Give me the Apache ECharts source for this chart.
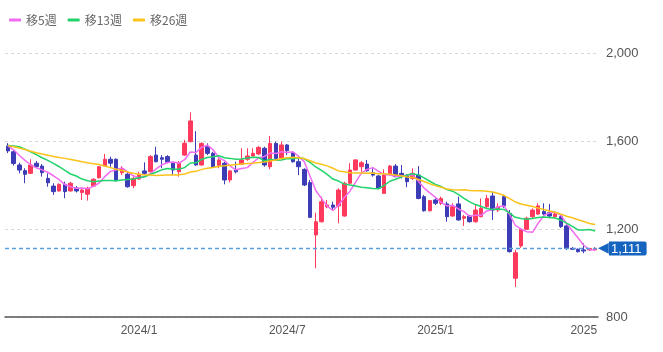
<!DOCTYPE html>
<html>
<head>
<meta charset="utf-8">
<script src="https://cdnjs.cloudflare.com/ajax/libs/echarts/6.0.0/echarts.min.js"></script>
<style>
html, body { margin: 0; padding: 0; background: #fff; }
#main { width: 663px; height: 352px; }
</style>
</head>
<body>
<div id="main"></div>
<script>
// 週足の日付
var dates = ['2023/7/28','2023/8/4','2023/8/11','2023/8/18','2023/8/25','2023/9/1','2023/9/8','2023/9/15','2023/9/22','2023/9/29',
  '2023/10/6','2023/10/13','2023/10/20','2023/10/27','2023/11/3','2023/11/10','2023/11/17','2023/11/24','2023/12/1','2023/12/8',
  '2023/12/15','2023/12/22','2023/12/29','2024/1/5','2024/1/12','2024/1/19','2024/1/26','2024/2/2','2024/2/9','2024/2/16',
  '2024/2/23','2024/3/1','2024/3/8','2024/3/15','2024/3/22','2024/3/29','2024/4/5','2024/4/12','2024/4/19','2024/4/26',
  '2024/5/3','2024/5/10','2024/5/17','2024/5/24','2024/5/31','2024/6/7','2024/6/14','2024/6/21','2024/6/28','2024/7/5',
  '2024/7/12','2024/7/19','2024/7/26','2024/8/2','2024/8/9','2024/8/16','2024/8/23','2024/8/30','2024/9/6','2024/9/13',
  '2024/9/20','2024/9/27','2024/10/4','2024/10/11','2024/10/18','2024/10/25','2024/11/1','2024/11/8','2024/11/15','2024/11/22',
  '2024/11/29','2024/12/6','2024/12/13','2024/12/20','2024/12/27','2025/1/3','2025/1/10','2025/1/17','2025/1/24','2025/1/31',
  '2025/2/7','2025/2/14','2025/2/21','2025/2/28','2025/3/7','2025/3/14','2025/3/21','2025/3/28','2025/4/4','2025/4/11',
  '2025/4/18','2025/4/25','2025/5/2','2025/5/9','2025/5/16','2025/5/23','2025/5/30','2025/6/6','2025/6/13','2025/6/20',
  '2025/6/27','2025/7/4','2025/7/11','2025/7/18'];

var openVals = [1577,1551,1491,1465,1453,1499,1486,1430,1395,1373,
  1403,1373,1386,1366,1358,1395,1433,1486,1517,1517,
  1456,1449,1397,1427,1464,1460,1536,1524,1529,1499,
  1460,1536,1597,1536,1491,1574,1544,1488,1499,1423,
  1468,1494,1517,1532,1541,1567,1483,1589,1521,1582,
  1547,1506,1471,1411,1173,1233,1301,1309,1305,1259,
  1408,1468,1483,1495,1456,1441,1362,1449,1486,1453,
  1441,1430,1445,1347,1283,1332,1317,1314,1259,1314,
  1249,1259,1233,1256,1301,1350,1286,1347,1271,976,
  1123,1199,1256,1268,1279,1274,1256,1256,1214,1112,
  1108,1105,1105,1105];

var closeVals = [1555,1498,1468,1449,1491,1483,1456,1410,1370,1403,
  1370,1408,1373,1377,1385,1426,1483,1517,1499,1420,
  1471,1392,1430,1449,1453,1529,1506,1517,1503,1468,
  1499,1590,1691,1491,1589,1544,1483,1514,1423,1464,
  1460,1514,1532,1544,1571,1491,1589,1521,1582,1556,
  1506,1483,1400,1253,1233,1324,1309,1299,1377,1408,
  1468,1514,1501,1465,1445,1385,1445,1486,1438,1441,
  1415,1453,1339,1283,1329,1317,1339,1256,1301,1241,
  1256,1233,1286,1294,1339,1286,1301,1305,1097,1092,
  1199,1249,1286,1305,1268,1259,1268,1211,1112,1108,
  1097,1100,1111,1111];

var highVals = [1590,1559,1501,1476,1517,1509,1495,1453,1408,1408,
  1415,1415,1395,1385,1392,1430,1486,1541,1529,1521,
  1486,1460,1438,1460,1503,1536,1574,1536,1536,1506,
  1509,1605,1730,1645,1594,1589,1551,1521,1506,1468,
  1506,1567,1567,1567,1577,1574,1623,1597,1597,1586,
  1551,1521,1476,1423,1274,1347,1332,1324,1385,1415,
  1499,1517,1509,1514,1476,1445,1471,1491,1495,1491,
  1450,1476,1486,1355,1332,1339,1347,1324,1317,1347,
  1264,1264,1309,1339,1355,1370,1317,1355,1286,1105,
  1205,1256,1294,1317,1317,1314,1277,1264,1221,1118,
  1112,1135,1114,1118];

var lowVals = [1545,1488,1453,1408,1450,1480,1438,1392,1355,1370,
  1340,1370,1366,1332,1329,1392,1430,1483,1483,1415,
  1445,1388,1385,1423,1445,1458,1503,1476,1499,1445,
  1438,1532,1594,1488,1488,1536,1479,1476,1403,1412,
  1453,1491,1510,1529,1536,1483,1471,1514,1517,1536,
  1502,1445,1395,1249,1021,1229,1294,1286,1226,1256,
  1405,1465,1460,1460,1438,1380,1359,1445,1435,1430,
  1390,1423,1335,1279,1279,1309,1309,1233,1256,1238,
  1214,1229,1229,1253,1295,1241,1277,1295,1093,936,
  1114,1196,1249,1264,1264,1249,1249,1205,1105,1105,
  1093,1090,1100,1102];

var ma5 = [1578,1560,1535,1512,1492,1478,1469,1458,1442,1424,
  1402,1392,1385,1386,1383,1394,1409,1438,1462,1469,
  1478,1460,1442,1432,1439,1451,1473,1491,1502,1505,
  1499,1515,1550,1548,1572,1581,1560,1524,1511,1486,
  1469,1475,1479,1503,1524,1530,1545,1543,1551,1548,
  1551,1530,1505,1440,1375,1339,1304,1284,1308,1343,
  1372,1413,1454,1471,1479,1462,1448,1445,1440,1439,
  1445,1447,1417,1386,1364,1344,1321,1305,1308,1291,
  1279,1257,1263,1262,1282,1288,1301,1305,1266,1216,
  1199,1188,1185,1226,1261,1273,1277,1262,1224,1192,
  1159,1126,1106,1105];

var ma13 = [1579,1577,1574,1563,1551,1538,1524,1512,1498,1483,
  1466,1450,1441,1427,1419,1415,1418,1420,1421,1419,
  1423,1425,1427,1433,1437,1449,1458,1469,1475,1473,
  1472,1479,1500,1501,1517,1525,1528,1533,1524,1521,
  1517,1518,1523,1526,1525,1509,1517,1512,1514,1520,
  1519,1524,1519,1503,1482,1466,1448,1427,1418,1404,
  1400,1395,1390,1387,1384,1383,1398,1417,1426,1436,
  1445,1451,1446,1432,1417,1403,1393,1379,1372,1357,
  1339,1323,1311,1302,1293,1289,1291,1289,1272,1253,
  1248,1244,1248,1252,1254,1252,1250,1240,1227,1212,
  1196,1196,1198,1191];

var ma26 = [1579,1574,1568,1561,1553,1547,1541,1535,1530,1525,
  1521,1516,1511,1506,1501,1497,1493,1486,1479,1472,
  1466,1459,1453,1449,1446,1445,1443,1444,1445,1446,
  1446,1450,1459,1462,1471,1476,1480,1485,1487,1490,
  1493,1496,1498,1499,1502,1505,1509,1514,1520,1524,
  1526,1524,1520,1510,1500,1494,1487,1476,1464,1460,
  1456,1455,1455,1453,1454,1451,1451,1449,1446,1442,
  1436,1434,1425,1416,1406,1397,1390,1382,1378,1377,
  1378,1375,1374,1374,1372,1368,1361,1353,1338,1323,
  1314,1308,1302,1295,1289,1282,1276,1267,1258,1251,
  1242,1234,1225,1220];

var tickDates = ['2024/1/5', '2024/7/5', '2025/1/3', '2025/7/4'];
var tickLabels = ['2024/1', '2024/7', '2025/1', '2025'];
var lastPrice = 1111;

var upColor = '#ff3a5c';
var downColor = '#3c3cb6';

var candles = [];
for (var i = 0; i < dates.length; i++) {
  candles.push([openVals[i], closeVals[i], lowVals[i], highVals[i]]);
}

var chart = echarts.init(document.getElementById('main'));
chart.setOption({
  animation: false,
  textStyle: { fontFamily: '"Liberation Sans", Arial, sans-serif' },
  legend: {
    left: 4,
    top: 9,
    itemWidth: 12,
    itemHeight: 3,
    itemGap: 11,
    icon: 'roundRect',
    textStyle: { color: '#666', fontSize: 12, fontFamily: '"Noto Sans CJK JP", sans-serif' },
    data: ['移5週', '移13週', '移26週']
  },
  grid: { left: 5, right: 65, top: 53, bottom: 35 },
  xAxis: {
    type: 'category',
    data: dates,
    boundaryGap: true,
    axisLine: { lineStyle: { color: '#555', width: 1.5 } },
    axisTick: { show: false },
    splitLine: { show: false },
    axisLabel: {
      color: '#555',
      fontSize: 12,
      margin: 8,
      interval: function (index, value) { return tickDates.indexOf(value) >= 0; },
      formatter: function (value) { return tickLabels[tickDates.indexOf(value)]; }
    }
  },
  yAxis: {
    type: 'value',
    position: 'right',
    min: 800,
    max: 2000,
    interval: 400,
    axisLine: { show: false },
    axisTick: { show: false },
    splitLine: { lineStyle: { color: '#d9d9d9', type: [3, 3] } },
    axisLabel: {
      color: '#555',
      fontSize: 13,
      margin: 8,
      formatter: function (v) { return v.toLocaleString('en-US'); }
    }
  },
  series: [
    {
      name: '週足',
      type: 'candlestick',
      data: candles,
      barWidth: 4,
      itemStyle: {
        color: upColor,
        color0: downColor,
        borderColor: upColor,
        borderColor0: downColor,
        borderWidth: 1
      },
      markLine: {
        silent: true,
        symbol: 'none',
        lineStyle: { color: '#5b9ee0', type: [4, 3], width: 1.3 },
        label: {
          position: 'end',
          distance: 0,
          formatter: function () { return '{a|◀}{b|' + lastPrice.toLocaleString('en-US') + '}'; },
          rich: {
            a: { color: '#1565c0', fontSize: 14, lineHeight: 17, padding: [0, 0, 0, 0] },
            b: {
              backgroundColor: '#1565c0',
              borderRadius: [0, 2, 2, 0],
              color: '#fff',
              fontSize: 13,
              lineHeight: 17,
              padding: [1, 5, 0, 2]
            }
          }
        },
        data: [{ yAxis: lastPrice }]
      }
    },
    {
      name: '移5週',
      type: 'line',
      data: ma5,
      showSymbol: false,
      symbol: 'none',
      itemStyle: { color: '#f26cf2' },
      lineStyle: { color: '#f26cf2', width: 1.5 }
    },
    {
      name: '移13週',
      type: 'line',
      data: ma13,
      showSymbol: false,
      symbol: 'none',
      itemStyle: { color: '#22d36b' },
      lineStyle: { color: '#22d36b', width: 1.5 }
    },
    {
      name: '移26週',
      type: 'line',
      data: ma26,
      showSymbol: false,
      symbol: 'none',
      itemStyle: { color: '#fbc31a' },
      lineStyle: { color: '#fbc31a', width: 1.5 }
    }
  ]
});
</script>
</body>
</html>
